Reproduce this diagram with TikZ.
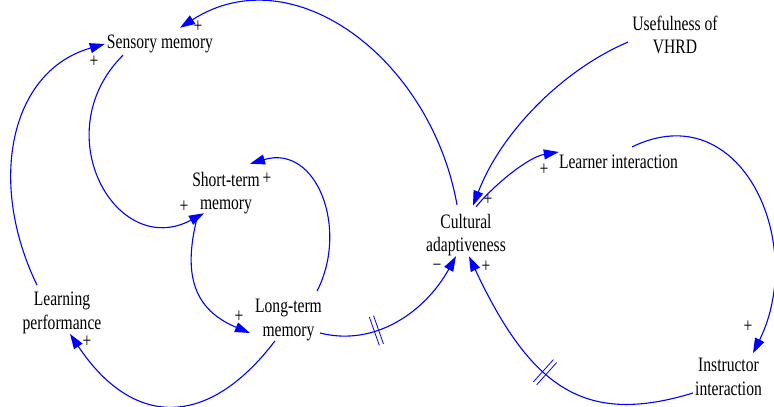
\documentclass[tikz,border=0pt]{standalone}
\usepackage{fontspec}
\setmainfont{Liberation Serif}[FakeStretch=0.76]
\usetikzlibrary{arrows.meta,decorations.markings}
\tikzset{>={Triangle[length=15pt,width=10pt]}}
\tikzset{var/.style={align=center,inner sep=2pt,font=\fontsize{20.5}{23.5}\selectfont},
  sign/.style={inner sep=0pt,font=\fontsize{20.5}{23.5}\selectfont},
  link/.style={->,blue,line width=1.1pt},
  delay/.style={postaction={decorate,decoration={markings,mark=at position #1 with
    {\draw[-,line width=0.8pt] (-2.2pt,-15pt) -- (-2.2pt,15pt) (2.2pt,-15pt) -- (2.2pt,15pt);}}}}}

\begin{document}
\begin{tikzpicture}[x=1pt,y=1pt]
\useasboundingbox (0,0) rectangle (774,407);
%%%% variables
\node[var] (sens) at (160,363) {Sensory memory};
\node[var] (stm) at (226,214) {Short-term\\memory};
\node[var] (ltm) at (288.5,87) {Long-term\\memory};
\node[var] (lp) at (62,94) {Learning\\performance};
\node[var] (cult) at (466,172) {Cultural\\adaptiveness};
\node[var] (vhrd) at (675,372) {Usefulness of\\VHRD};
\node[var] (lrn) at (618.5,245) {Learner interaction};
\node[var] (inst) at (728.5,30) {Instructor\\interaction};
%%%% memory loop
\draw[link] ([xshift=-9pt,yshift=7pt]cult.north) .. controls (431,348) and (293,452) .. ([xshift=20pt,yshift=5pt]sens.north);
\draw[link] ([xshift=-25pt,yshift=5pt]lp.north) .. controls (-13,225) and (10,336) .. (sens.west);
\draw[link] ([xshift=-37pt]sens.south) .. controls (45,274) and (116,147) .. ([xshift=-22pt,yshift=3pt]stm.south);
\draw[link] ([xshift=-29pt,yshift=-2pt]stm.south) .. controls (182.5,131) and (194.6,97) .. ([xshift=-3pt,yshift=-13pt]ltm.west);
\draw[link] ([xshift=28.5pt,yshift=6pt]ltm.north) .. controls (349,178) and (317,263) .. ([xshift=24pt,yshift=6pt]stm.north);
\draw[link] ([xshift=-13.5pt,yshift=2pt]ltm.south) .. controls (207.6,-22.5) and (132.6,-20.8) .. ([xshift=8pt,yshift=2pt]lp.south);
\draw[link,delay=0.34] ([xshift=-4pt,yshift=-13pt]ltm.east) .. controls (375,60) and (425,95) .. ([xshift=-10pt,yshift=2pt]cult.south);
%%%% interaction loop
\draw[link,delay=0.53] ([yshift=-16pt]inst.west) .. controls (588,-18) and (532.5,15) .. ([xshift=3pt,yshift=2pt]cult.south);
\draw[link] ([xshift=13.5pt,yshift=6pt]lrn.north) .. controls (741,313) and (807.5,164) .. ([xshift=24.5pt,yshift=3pt]inst.north);
\draw[link] ([xshift=10pt,yshift=5pt]cult.north) .. controls (495,223) and (528.5,250) .. ([xshift=2pt,yshift=10pt]lrn.west);
\draw[link] ([xshift=-2pt,yshift=-7pt]vhrd.west) .. controls (563.5,337.6) and (501.6,275.7) .. ([xshift=7pt,yshift=6pt]cult.north);
%%%% polarities
\node[sign] (s1) at (198,380) {+};
\node[sign] (s2) at (94,345) {+};
\node[sign] (s3) at (184,200) {+};
\node[sign] (s4) at (267,228) {+};
\node[sign] (s5) at (239,90) {+};
\node[sign] (s6) at (87,65) {+};
\node[sign] (s7) at (437,139) {−};
\node[sign] (s8) at (486,140) {+};
\node[sign] (s9) at (488,207) {+};
\node[sign] (s10) at (544,237) {+};
\node[sign] (s11) at (748,80) {+};
\end{tikzpicture}
\end{document}
